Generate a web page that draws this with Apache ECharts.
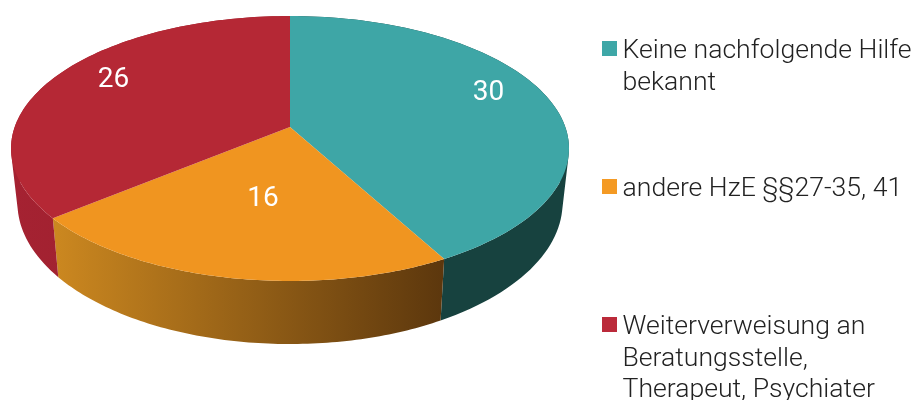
<!DOCTYPE html>
<html><head><meta charset="utf-8">
<style>html,body{margin:0;padding:0;background:#fff}#c{width:915px;height:400px}</style>
<script src="https://cdn.jsdelivr.net/npm/echarts@6/dist/echarts.min.js"></script>
</head><body><div id="c"></div>
<script>
// data
const categories = ['Keine nachfolgende Hilfe\nbekannt', 'andere HzE §§27-35, 41', 'Weiterverweisung an\nBeratungsstelle,\nTherapeut, Psychiater'];
const values = [30, 16, 26];
// styles
const topColors = ['#3EA6A6', '#F09520', '#B52835'];
const swatchColors = ['#3EA7A7', '#F49A24', '#BB2A3A'];
const wallColors = [['#17423F', '#17423F'], ['#CC8820', '#5C370D'], ['#A52232', '#951F2A']];
const legendCentres = [48.5, 186.5, 324.5];
const labelFont = 'Roboto';
// label placement inside the disc, relative to slice: radius fraction, angle shift (deg), fine offset (px)
const labelRadius = [0.81, 0.50, 0.81];
const labelShift = [-8, 0, 5];
const labelDx = [2, 1.5, 4];
const labelDy = [4, 3, 2.5];
// small view correction of slice edges on the projected rim (deg)
const edgeNudge = [0, 1.3, 0.6, 0];

// projected disc
const cx = 290, topY = 127, R = 275.3, H = 129, K = 0.1623, WALL = 52.8, BASE_SCALE = 0.977;
const STEPS = 90;
function topPoint(a, f) {
  f = f === undefined ? 1 : f;
  const u = Math.sin(a) * f, v = Math.cos(a) * f, d = 1 + K * v;
  return [cx + R * u / d, topY - H * v / d];
}
function basePoint(a) {
  const u = Math.sin(a), v = Math.cos(a), d = 1 + K * v;
  return [cx + BASE_SCALE * R * u / d, topY + (WALL - H * v) / d];
}
const total = values.reduce((s, x) => s + x, 0);
function span(i) {
  let s = 0;
  for (let j = 0; j < i; j++) s += values[j];
  const rad = Math.PI / 180;
  return [s / total * 2 * Math.PI + edgeNudge[i] * rad, (s + values[i]) / total * 2 * Math.PI + edgeNudge[i + 1] * rad];
}
function renderSlice(i) {
  return function () {
    const [a0, a1] = span(i);
    const rim = [], low = [];
    for (let k = 0; k <= STEPS; k++) {
      const a = a0 + (a1 - a0) * k / STEPS;
      rim.push(topPoint(a)); low.push(basePoint(a));
    }
    // the wall is swept as quads so its silhouette follows the tangent edges
    let d = '', minX = Infinity, maxX = -Infinity;
    for (let k = 0; k < STEPS; k++) {
      let q = [rim[k], rim[k + 1], low[k + 1], low[k]];
      let area = 0;
      for (let n = 0; n < 4; n++) {
        const p = q[n], r = q[(n + 1) % 4];
        area += p[0] * r[1] - r[0] * p[1];
        minX = Math.min(minX, p[0]); maxX = Math.max(maxX, p[0]);
      }
      if (area < 0) q = q.reverse();
      d += 'M' + q.map(p => p[0].toFixed(2) + ' ' + p[1].toFixed(2)).join('L') + 'Z';
    }
    const mid = (a0 + a1) / 2 + labelShift[i] * Math.PI / 180;
    const lp = topPoint(mid, labelRadius[i]);
    return {
      type: 'group',
      children: [
        { type: 'path', shape: { pathData: d },
          style: { fill: new echarts.graphic.LinearGradient(minX, 0, maxX, 0, [
            { offset: 0, color: wallColors[i][0] }, { offset: 1, color: wallColors[i][1] }], true) } },
        { type: 'polygon', shape: { points: [[cx, topY]].concat(rim) }, style: { fill: topColors[i] } },
        { type: 'text', x: lp[0] + labelDx[i], y: lp[1] + labelDy[i], style: { text: String(values[i]), fill: '#fff',
          font: '400 28px ' + labelFont, align: 'center', verticalAlign: 'middle' } }
      ]
    };
  };
}
const lineH = 31.6;
const spacerH = 6; // thin first line: sets the text 3px lower than the swatch centre
const chart = echarts.init(document.getElementById('c'), null, { renderer: 'canvas' });
chart.setOption({
  animation: false,
  backgroundColor: '#fff',
  tooltip: { show: false },
  legend: categories.map((name, i) => {
    const lines = name.split('\n').length;
    return {
      data: [name], left: 602, top: legendCentres[i] - ((2 * lines - 1) * lineH + spacerH) / 2, orient: 'vertical', padding: 0,
      icon: 'path://M0 0H15V15H0Z', itemWidth: 16, itemHeight: 15, itemGap: 0, selectedMode: false,
      itemStyle: { color: swatchColors[i] },
      // leading blank lines put the swatch level with the first line of text
      formatter: n => '{s| }\n' + ' \n'.repeat(lines - 1) + n,
      textStyle: { fontFamily: 'Roboto', fontWeight: 300, fontSize: 26.6, color: '#222', lineHeight: lineH,
        rich: { s: { fontSize: 1, lineHeight: spacerH } } }
    };
  }),
  series: categories.map((name, i) => ({
    type: 'custom', name, coordinateSystem: 'none', silent: true,
    itemStyle: { color: swatchColors[i] },
    data: [values[i]], renderItem: renderSlice(i)
  }))
});
</script></body></html>
